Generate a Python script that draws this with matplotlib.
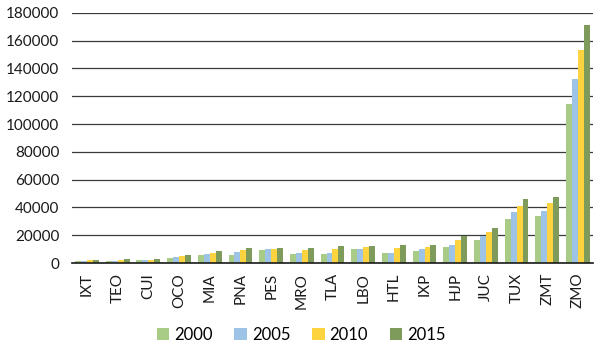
import numpy as np
import matplotlib.pyplot as plt

# Data
categories = ['IXT', 'TEO', 'CUI', 'OCO', 'MIA', 'PNA', 'PES', 'MRO', 'TLA',
              'LBO', 'HTL', 'IXP', 'HJP', 'JUC', 'TUX', 'ZMT', 'ZMO']
years = ['2000', '2005', '2010', '2015']

v2000 = [1500, 1400, 2200, 3900, 5800, 6000, 9600, 6700, 6400,
         9800, 7100, 9000, 11400, 16400, 31400, 34000, 114700]
v2005 = [1800, 1700, 2200, 4600, 6500, 8000, 10100, 7500, 7600,
         10200, 7600, 10000, 12800, 19800, 36700, 37400, 132500]
v2010 = [2200, 2400, 2400, 5300, 7200, 9600, 10100, 9500, 10000,
         11400, 10700, 11900, 16900, 22200, 41000, 43100, 153200]
v2015 = [2300, 2900, 2900, 5500, 8400, 10600, 10800, 11200, 12400,
         12600, 13100, 13300, 19800, 25000, 46200, 47400, 171000]

series = [v2000, v2005, v2010, v2015]
colors = ['#A8CB85', '#9DC3E6', '#FDD33F', '#7E9B5C']

plt.rcParams['font.family'] = ['Lato', 'DejaVu Sans']

fig = plt.figure(figsize=(5.98, 3.48), dpi=100)
ax = fig.add_axes([0.120, 0.244, 0.872, 0.719])

x = np.arange(len(categories))
w = 0.195
for i, (vals, col) in enumerate(zip(series, colors)):
    ax.bar(x + (i - 1.5) * w, vals, width=w, color=col, label=years[i], zorder=3)

ax.set_xlim(-0.5, len(categories) - 0.5)
ax.set_ylim(0, 180000)
ax.set_yticks(np.arange(0, 180001, 20000))
ax.yaxis.grid(True, color='#3a3a3a', linewidth=0.9, zorder=0)
ax.set_axisbelow(True)

for s in ['top', 'right', 'left']:
    ax.spines[s].set_visible(False)
ax.spines['bottom'].set_color('#1a1a1a')
ax.spines['bottom'].set_linewidth(1.2)
ax.spines['bottom'].set_zorder(4)

ax.set_xticks(x)
ax.set_xticklabels(categories, rotation=90, fontsize=11, color='#1a1a1a')
ax.tick_params(axis='both', length=0)
ax.tick_params(axis='x', pad=7)
ax.tick_params(axis='y', labelsize=11, labelcolor='#1a1a1a', pad=9)

ax.legend(loc='upper center', bbox_to_anchor=(0.44, -0.195), ncol=4, frameon=False,
          fontsize=12, handlelength=0.75, handleheight=0.75, handletextpad=0.3,
          columnspacing=1.3)

fig.savefig('out.png', dpi=100)
